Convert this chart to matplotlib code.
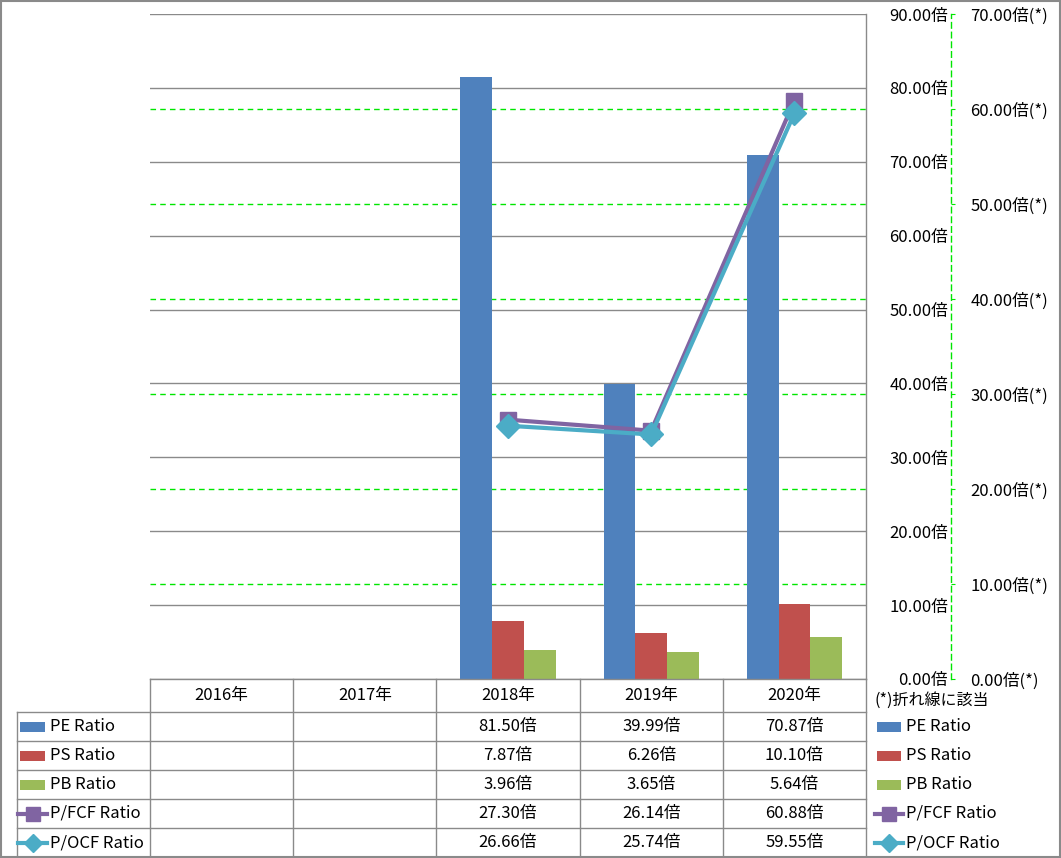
import numpy as np
import matplotlib
matplotlib.use("Agg")
import matplotlib.pyplot as plt
from matplotlib.patches import Rectangle

plt.rcParams['font.family'] = ['Noto Sans CJK JP', 'DejaVu Sans']

# --- data ---
years = ['2016年', '2017年', '2018年', '2019年', '2020年']
pe_ratio = [np.nan, np.nan, 81.50, 39.99, 70.87]
ps_ratio = [np.nan, np.nan, 7.87, 6.26, 10.10]
pb_ratio = [np.nan, np.nan, 3.96, 3.65, 5.64]
pfcf_ratio = [np.nan, np.nan, 27.30, 26.14, 60.88]
pocf_ratio = [np.nan, np.nan, 26.66, 25.74, 59.55]

names = ['PE Ratio', 'PS Ratio', 'PB Ratio', 'P/FCF Ratio', 'P/OCF Ratio']
colors = ['#4F81BD', '#C0504D', '#9BBB59', '#8064A2', '#4BACC6']
GREEN = '#00e600'
GRAY = '#8a8a8a'

W, H = 1061, 858
fig = plt.figure(figsize=(W / 100, H / 100), dpi=100)

# plot area in pixels
left, right, top, bottom = 150, 866, 14, 679
rect = [left / W, (H - bottom) / H, (right - left) / W, (bottom - top) / H]

ax = fig.add_axes(rect)
axg = ax.twinx()   # secondary grid only, drawn behind the bars
ax2 = ax.twinx()   # lines + secondary scale
axg.set_zorder(0)
ax.set_zorder(1)
ax2.set_zorder(2)
ax.patch.set_visible(False)
ax2.patch.set_visible(False)

x = np.arange(len(years))
w = 0.222
ax.bar(x - w, pe_ratio, w, color=colors[0])
ax.bar(x, ps_ratio, w, color=colors[1])
ax.bar(x + w, pb_ratio, w, color=colors[2])
ax.set_xlim(-0.5, len(years) - 0.5)
ax.set_ylim(0, 90)
ax.set_xticks([])
ax.yaxis.tick_right()
ax.set_yticks(range(0, 91, 10))
ax.set_yticklabels([f"{v:.2f}倍" for v in range(0, 91, 10)])
ax.tick_params(axis='y', length=0, pad=59, labelsize=12)
for lbl in ax.get_yticklabels():
    lbl.set_ha('right')
ax.yaxis.grid(True, color=GRAY, lw=1.0)
ax.set_axisbelow(True)
for s in ['top', 'left', 'bottom']:
    ax.spines[s].set_visible(False)
ax.spines['right'].set_color(GRAY)
ax.spines['right'].set_linewidth(1.0)

axg.set_ylim(0, 70)
axg.set_yticks(range(10, 61, 10))
axg.tick_params(axis='y', length=0, labelright=False)
axg.yaxis.grid(True, color=GREEN, lw=1.0, ls=(0, (4, 3)))
for s in axg.spines.values():
    s.set_visible(False)

ax2.plot(x, pfcf_ratio, color=colors[3], lw=3, marker='s', ms=12, solid_joinstyle='round')
ax2.plot(x, pocf_ratio, color=colors[4], lw=3, marker='D', ms=12.5, solid_joinstyle='round')
ax2.set_ylim(0, 70)
ax2.set_yticks(range(0, 71, 10))
ax2.set_yticklabels([f"{v:.2f}倍(*)" for v in range(0, 71, 10)])
ax2.tick_params(axis='y', direction='out', length=3, color=GREEN, pad=11, labelsize=12)
for s in ['top', 'left', 'bottom']:
    ax2.spines[s].set_visible(False)
ax2.spines['right'].set_position(('outward', 61))
ax2.spines['right'].set_color(GREEN)
ax2.spines['right'].set_linestyle((0, (4, 3)))
ax2.spines['right'].set_linewidth(1.0)

# --- data table and legends (pixel layout) ---
tab = fig.add_axes([0, 0, 1, 1])
tab.set_xlim(0, W)
tab.set_ylim(H, 0)
tab.axis('off')
tab.set_zorder(3)

col_w = (right - left) / len(years)
edges = [left + i * col_w for i in range(len(years) + 1)]
head_y = (bottom + 712) / 2
row_top = [712, 741, 770, 799, 828, 857]
row_c = [(row_top[i] + row_top[i + 1]) / 2 for i in range(5)]

tab.add_patch(Rectangle((0.5, 0.5), W - 1.5, H - 1.5, fill=False, ec=GRAY, lw=1.5))
tab.plot([left, right], [bottom, bottom], color=GRAY, lw=1.0)
for e in edges:
    tab.plot([e, e], [bottom, H - 1], color=GRAY, lw=1.0)
tab.plot([17, 17], [712, H - 1], color=GRAY, lw=1.0)
for yy in row_top[:-1]:
    tab.plot([17, right], [yy, yy], color=GRAY, lw=1.0)

for i, yr in enumerate(years):
    cx = (edges[i] + edges[i + 1]) / 2
    tab.text(cx, head_y, yr, ha='center', va='center', fontsize=12)

series = [pe_ratio, ps_ratio, pb_ratio, pfcf_ratio, pocf_ratio]
for r, vals in enumerate(series):
    for i, v in enumerate(vals):
        if not np.isnan(v):
            cx = (edges[i] + edges[i + 1]) / 2
            tab.text(cx, row_c[r], f"{v:.2f}倍", ha='center', va='center', fontsize=12)

tab.text(874, 700, '(*)折れ線に該当', ha='left', va='center', fontsize=11.5)


def legend_key(x0, x1, yc, r):
    if r < 3:
        tab.add_patch(Rectangle((x0, yc - 5), x1 - x0, 10, color=colors[r], lw=0))
    else:
        mk = 's' if r == 3 else 'D'
        tab.plot([x0 - 2, x1 + 2], [yc, yc], color=colors[r], lw=3)
        tab.plot([(x0 + x1) / 2], [yc], marker=mk, ms=9.5, color=colors[r])


for r, nm in enumerate(names):
    legend_key(20, 45, row_c[r], r)
    tab.text(50, row_c[r], nm, ha='left', va='center', fontsize=12)
    legend_key(877, 901, row_c[r], r)
    tab.text(906, row_c[r], nm, ha='left', va='center', fontsize=12)

fig.savefig('out.png', dpi=100)
